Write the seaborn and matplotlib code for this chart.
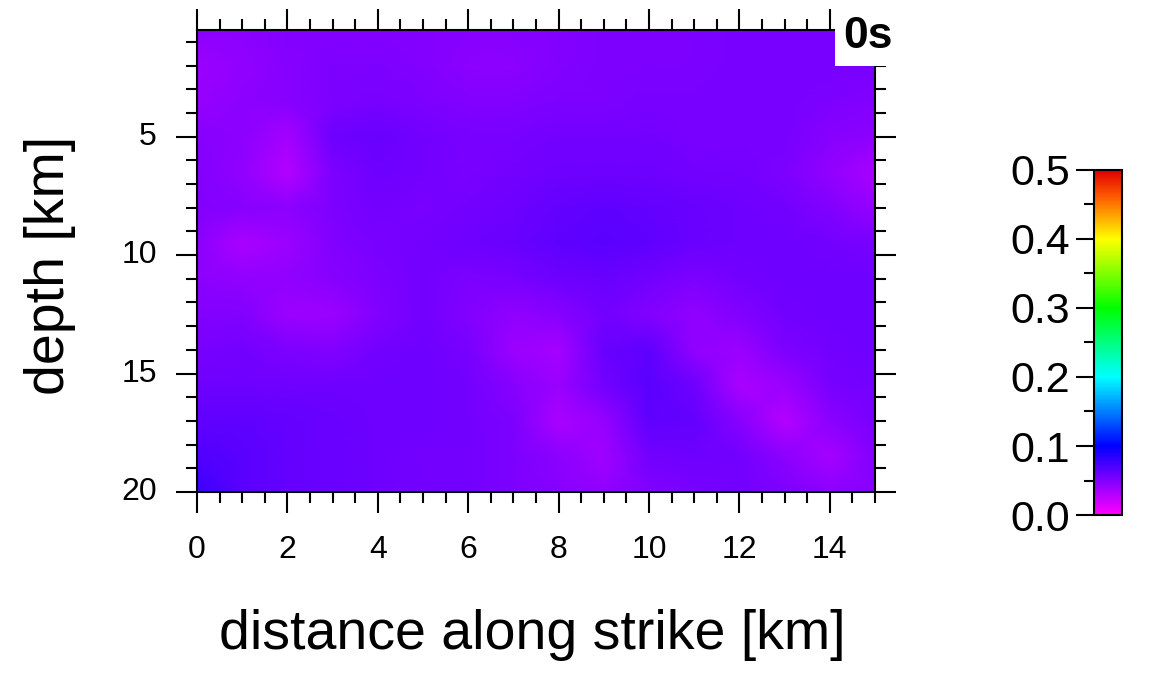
import numpy as np
import pandas as pd
import matplotlib
matplotlib.use("Agg")
import matplotlib.pyplot as plt
from matplotlib.colors import LinearSegmentedColormap
import seaborn as sns

# grid nodes of the slip-rate snapshot (km)
dist_km = [0, 1, 2, 3, 4, 5, 6, 7, 8, 9, 10, 11, 12, 13, 14, 15]
depth_km = [0.5, 2.0, 3.5, 5.0, 6.5, 8.0, 9.5, 11.0, 12.5, 14.0, 15.5, 17.0, 18.5, 20.0]

# slip rate at t = 0s, one row per depth
slip_rate = [
    [0.045, 0.046, 0.049, 0.050, 0.050, 0.049, 0.047, 0.047, 0.050, 0.051, 0.052, 0.052, 0.053, 0.053, 0.054, 0.054],
    [0.040, 0.043, 0.048, 0.051, 0.051, 0.049, 0.046, 0.046, 0.049, 0.051, 0.052, 0.052, 0.053, 0.054, 0.054, 0.053],
    [0.042, 0.045, 0.048, 0.052, 0.054, 0.052, 0.050, 0.049, 0.051, 0.052, 0.053, 0.053, 0.053, 0.054, 0.052, 0.050],
    [0.048, 0.046, 0.036, 0.058, 0.060, 0.055, 0.054, 0.054, 0.055, 0.056, 0.055, 0.054, 0.053, 0.053, 0.048, 0.045],
    [0.050, 0.044, 0.030, 0.052, 0.058, 0.055, 0.054, 0.056, 0.058, 0.058, 0.057, 0.056, 0.055, 0.052, 0.044, 0.034],
    [0.050, 0.048, 0.046, 0.052, 0.055, 0.054, 0.055, 0.058, 0.062, 0.064, 0.062, 0.060, 0.058, 0.055, 0.050, 0.042],
    [0.046, 0.035, 0.040, 0.050, 0.053, 0.055, 0.057, 0.060, 0.064, 0.066, 0.063, 0.060, 0.058, 0.058, 0.056, 0.054],
    [0.046, 0.043, 0.044, 0.048, 0.052, 0.055, 0.052, 0.054, 0.058, 0.060, 0.055, 0.052, 0.056, 0.058, 0.058, 0.057],
    [0.050, 0.050, 0.040, 0.040, 0.050, 0.055, 0.050, 0.044, 0.048, 0.056, 0.050, 0.044, 0.050, 0.056, 0.057, 0.057],
    [0.054, 0.055, 0.052, 0.050, 0.055, 0.058, 0.054, 0.040, 0.036, 0.060, 0.064, 0.044, 0.040, 0.052, 0.056, 0.057],
    [0.058, 0.058, 0.057, 0.058, 0.058, 0.058, 0.056, 0.048, 0.040, 0.056, 0.066, 0.058, 0.034, 0.040, 0.054, 0.056],
    [0.064, 0.063, 0.061, 0.060, 0.058, 0.058, 0.056, 0.052, 0.035, 0.042, 0.064, 0.062, 0.048, 0.030, 0.046, 0.054],
    [0.070, 0.066, 0.062, 0.060, 0.058, 0.056, 0.055, 0.052, 0.045, 0.038, 0.056, 0.058, 0.055, 0.045, 0.036, 0.050],
    [0.078, 0.066, 0.062, 0.060, 0.058, 0.056, 0.055, 0.052, 0.048, 0.044, 0.050, 0.054, 0.055, 0.052, 0.045, 0.048],
]

x_ticks = [0, 2, 4, 6, 8, 10, 12, 14]
y_ticks = [5, 10, 15, 20]
cbar_ticks = [0.0, 0.1, 0.2, 0.3, 0.4, 0.5]
time_label = "0s"

sns.set_style("ticks", rc={"text.color": "black", "axes.labelcolor": "black",
                           "xtick.color": "black", "ytick.color": "black"})
plt.rcParams["font.family"] = ["Liberation Sans", "DejaVu Sans"]

# GMT-like rainbow: magenta -> blue -> cyan -> green -> yellow -> red
rainbow = LinearSegmentedColormap.from_list(
    "gmt_rainbow",
    [(0.0, "#ff00ff"), (0.2, "#0000ff"), (0.4, "#00ffff"),
     (0.6, "#00ff00"), (0.8, "#ffff00"), (0.92, "#ff6000"), (1.0, "#e00000")],
)

fig = plt.figure(figsize=(11.53, 6.78), dpi=100)
ax = fig.add_axes([0.1709, 0.2743, 0.5880, 0.6815])
cax = fig.add_axes([0.9488, 0.2404, 0.0243, 0.5089])

df = pd.DataFrame(slip_rate, index=depth_km, columns=dist_km)
sns.heatmap(df, ax=ax, cbar_ax=cax, cmap=rainbow, vmin=0, vmax=0.5,
            shading="gouraud", cbar_kws={"ticks": cbar_ticks})

# heatmap works in node-index space, convert km to that
def x_pos(km):
    return (np.asarray(km, dtype=float) - dist_km[0]) / (dist_km[1] - dist_km[0])

def y_pos(km):
    return (np.asarray(km, dtype=float) - depth_km[0]) / (depth_km[1] - depth_km[0])

ax.set_xlim(x_pos(dist_km[0]), x_pos(dist_km[-1]))
ax.set_ylim(y_pos(depth_km[-1]), y_pos(depth_km[0]))

ax.set_xticks(x_pos(x_ticks))
ax.set_xticklabels([str(t) for t in x_ticks], rotation=0)
ax.set_xticks(x_pos(np.arange(0, 15.01, 0.5)), minor=True)
ax.set_yticks(y_pos(y_ticks))
ax.set_yticklabels([str(t) for t in y_ticks], rotation=0, va="center")
ax.set_yticks(y_pos(np.arange(1, 20.01, 1)), minor=True)

ax.tick_params(which="both", direction="out", top=True, right=True,
               labeltop=False, labelright=False, width=1.5, color="black")
ax.tick_params(which="major", length=15)
ax.tick_params(which="minor", length=8)
ax.tick_params(axis="x", which="major", pad=16, labelsize=23)
ax.tick_params(axis="y", which="major", pad=14, labelsize=23)
for s in ax.spines.values():
    s.set_visible(True)
    s.set_linewidth(1.5)
    s.set_color("black")

ax.set_xlabel("distance along strike [km]", fontsize=40, va="center")
ax.xaxis.set_label_coords(0.495, -0.31)
ax.set_ylabel("depth [km]", fontsize=40, va="center")
ax.yaxis.set_label_coords(-0.217, 0.491)

ax.text(0.99, 0.985, time_label, transform=ax.transAxes, ha="center", va="center",
        fontsize=32, fontweight="bold", zorder=10, clip_on=False,
        bbox=dict(facecolor="white", edgecolor="none", pad=6))

cb = ax.collections[0].colorbar
cb.outline.set_linewidth(1.5)
cb.outline.set_edgecolor("black")
cb.ax.yaxis.set_ticks_position("left")
cb.set_ticks(cbar_ticks, labels=[f"{t:.1f}" for t in cbar_ticks])
cb.set_ticks([0.05, 0.15, 0.25, 0.35, 0.45], minor=True)
cb.ax.tick_params(which="major", length=13, width=1.5, labelsize=31, pad=4)
cb.ax.tick_params(which="minor", length=7, width=1.5)

fig.savefig("out.png", dpi=100)
